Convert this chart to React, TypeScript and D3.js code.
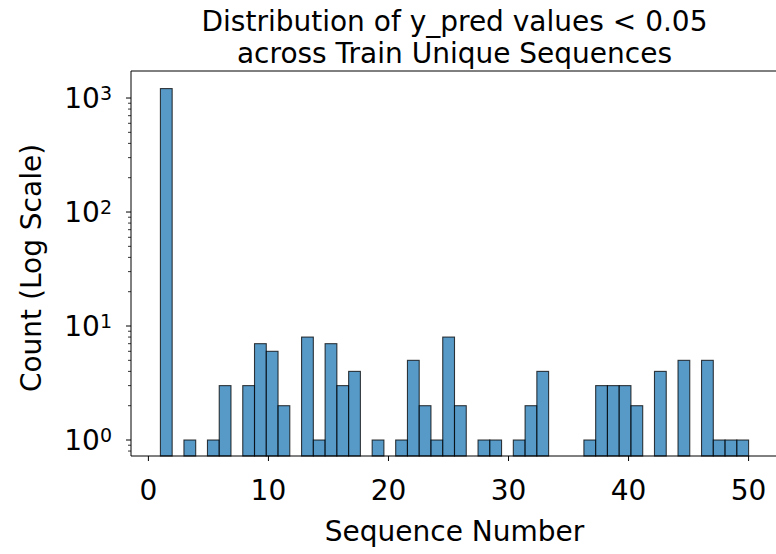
import React from "react";
import * as d3 from "d3";

// Histogram counts for sequence numbers 1..50 (50 equal-width bins)
const binCounts: number[] = [
  1210, 0, 1, 0, 1, 3, 0, 3, 7, 6,
  2, 0, 8, 1, 7, 3, 4, 0, 1, 0,
  1, 5, 2, 1, 8, 2, 0, 1, 1, 0,
  1, 2, 4, 0, 0, 0, 1, 3, 3, 3,
  2, 0, 4, 0, 5, 0, 5, 1, 1, 1,
];
const binStart = 1;
const binEnd = 50;
const xTicks: number[] = [0, 10, 20, 30, 40, 50];
const yTicks: number[] = [1, 10, 100, 1000];
const yTickExponents: string[] = ["0", "1", "2", "3"];
const titleLines: string[] = [
  "Distribution of y_pred values < 0.05",
  "across Train Unique Sequences",
];
const xLabel = "Sequence Number";
const yLabel = "Count (Log Scale)";

const W = 776;
const H = 554;
const M = { left: 131, right: 778, top: 71, bottom: 456 };
const FONT = "DejaVu Sans, sans-serif";
const FS = 28;

export default function App() {
  const x = d3.scaleLinear().domain([-1.45, 52.45]).range([M.left, M.right]);
  const y = d3.scaleLog().domain([0.724, 1726]).range([M.bottom, M.top]);
  const binW = (binEnd - binStart) / binCounts.length;

  const minorTicks: number[] = [];
  for (let e = -1; e <= 3; e++) {
    for (let m = 2; m <= 9; m++) {
      const v = m * Math.pow(10, e);
      if (v >= y.domain()[0] && v <= y.domain()[1]) minorTicks.push(v);
    }
  }

  return (
    <svg width={W} height={H} style={{ display: "block", position: "absolute", left: 0, top: 0 }}>
      <rect width={W} height={H} fill="#fff" />
      {/* bars */}
      {binCounts.map((c, i) => {
        if (c <= 0) return null;
        const x0 = binStart + i * binW;
        const x1 = x0 + binW;
        return (
          <rect
            key={i}
            x={x(x0)}
            y={y(c)}
            width={x(x1) - x(x0)}
            height={M.bottom - y(c)}
            fill="#1f77b4"
            fillOpacity={0.75}
            stroke="#000"
            strokeOpacity={0.75}
            strokeWidth={1.1}
          />
        );
      })}
      {/* spines */}
      <line x1={M.left} x2={M.left} y1={M.top} y2={M.bottom} stroke="#000" strokeWidth={1} />
      <line x1={M.left} x2={M.right} y1={M.bottom} y2={M.bottom} stroke="#000" strokeWidth={1} />
      <line x1={M.left} x2={M.right} y1={M.top} y2={M.top} stroke="#000" strokeWidth={1} />
      {/* x ticks */}
      {xTicks.map((t) => (
        <g key={t}>
          <line x1={x(t)} x2={x(t)} y1={M.bottom} y2={M.bottom + 5} stroke="#000" strokeWidth={1} />
          <text x={x(t)} y={500} textAnchor="middle" fontFamily={FONT} fontSize={FS} fill="#000">
            {t}
          </text>
        </g>
      ))}
      {/* y ticks */}
      {minorTicks.map((t) => (
        <line key={"m" + t} x1={M.left - 3} x2={M.left} y1={y(t)} y2={y(t)} stroke="#000" strokeWidth={0.8} />
      ))}
      {yTicks.map((t, i) => (
        <g key={t}>
          <line x1={M.left - 5} x2={M.left} y1={y(t)} y2={y(t)} stroke="#000" strokeWidth={1} />
          <text x={112} y={y(t) + 10} textAnchor="end" fontFamily={FONT} fontSize={FS} fill="#000">
            10
            <tspan dy={-8} fontSize={19}>{yTickExponents[i]}</tspan>
          </text>
        </g>
      ))}
      {/* title and axis labels */}
      {titleLines.map((s, i) => (
        <text key={i} x={(M.left + M.right) / 2} y={31 + i * 32} textAnchor="middle" fontFamily={FONT} fontSize={FS} fill="#000">
          {s}
        </text>
      ))}
      <text x={(M.left + M.right) / 2} y={541} textAnchor="middle" fontFamily={FONT} fontSize={FS} fill="#000">
        {xLabel}
      </text>
      <text
        transform={`translate(41, 268) rotate(-90)`}
        textAnchor="middle"
        fontFamily={FONT}
        fontSize={FS}
        fill="#000"
      >
        {yLabel}
      </text>
    </svg>
  );
}
